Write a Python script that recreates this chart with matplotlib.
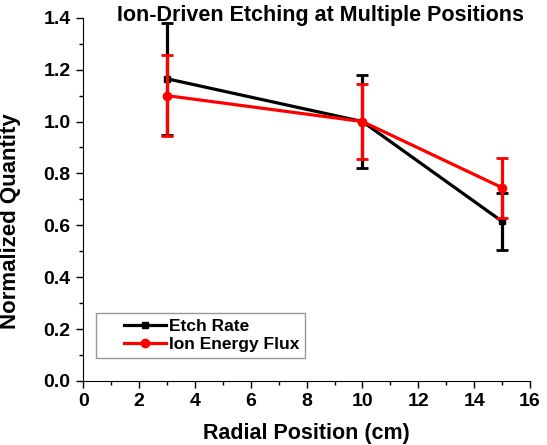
import numpy as np
import matplotlib.pyplot as plt
from matplotlib.ticker import MultipleLocator
from matplotlib.lines import Line2D
from matplotlib.legend_handler import HandlerLine2D

plt.rcParams['font.family'] = ['Liberation Sans', 'DejaVu Sans']
plt.rcParams['font.weight'] = 'bold'

positions = [3, 10, 15]
etch_rate = [1.165, 1.0, 0.615]
etch_err = [0.215, 0.18, 0.11]
ion_flux = [1.10, 1.0, 0.745]
ion_err = [0.155, 0.145, 0.115]

fig = plt.figure(figsize=(5.47, 4.45), dpi=100)
ax = fig.add_axes([0.152, 0.144, 0.817, 0.816])

ax.errorbar(positions, etch_rate, yerr=etch_err, color='black', linewidth=2.3,
            marker='s', markersize=5, elinewidth=2.3, capsize=4, capthick=2, zorder=2)
ax.errorbar(positions, ion_flux, yerr=ion_err, color='red', linewidth=2.3,
            marker='o', markersize=6, elinewidth=2.3, capsize=4, capthick=2, zorder=3)

ax.set_xlim(0, 16)
ax.set_ylim(0, 1.4)
ax.xaxis.set_major_locator(MultipleLocator(2))
ax.xaxis.set_minor_locator(MultipleLocator(1))
ax.yaxis.set_major_locator(MultipleLocator(0.2))
ax.yaxis.set_minor_locator(MultipleLocator(0.1))
ax.yaxis.set_major_formatter(plt.FormatStrFormatter('%.1f'))

ax.spines['top'].set_visible(False)
ax.spines['right'].set_visible(False)
ax.tick_params(which='major', direction='out', length=5, width=1, labelsize=14, pad=4)
ax.tick_params(which='minor', direction='out', length=3, width=1)
for lbl in ax.get_xticklabels() + ax.get_yticklabels():
    lbl.set_fontweight('bold')

ax.set_xlabel('Radial Position (cm)', fontsize=15.5, fontweight='bold', labelpad=9)
ax.set_ylabel('Normalized Quantity', fontsize=16, fontweight='bold')
ax.yaxis.set_label_coords(-0.14, 0.44)
ax.text(0.53, 1.005, 'Ion-Driven Etching at Multiple Positions', transform=ax.transAxes,
        ha='center', va='center', fontsize=15.5, fontweight='bold')

# legend handles: plain line + marker, offset to the right like the original
handles = [Line2D([], [], color='black', linewidth=2.3, marker='s', markersize=5),
           Line2D([], [], color='red', linewidth=2.3, marker='o', markersize=6)]
hmap = {h: HandlerLine2D(xpad=1.25) for h in handles}
leg = ax.legend(handles, ['Etch Rate', 'Ion Energy Flux'], loc='lower left',
                bbox_to_anchor=(0.029, 0.063), borderaxespad=0, frameon=True, fancybox=False,
                edgecolor='gray', fontsize=12.5, handlelength=3.65, borderpad=0.35,
                labelspacing=0.15, handletextpad=0.2, handler_map=hmap)
leg.get_frame().set_linewidth(1)
for t in leg.get_texts():
    t.set_fontweight('bold')

fig.savefig('out.png', dpi=100)
